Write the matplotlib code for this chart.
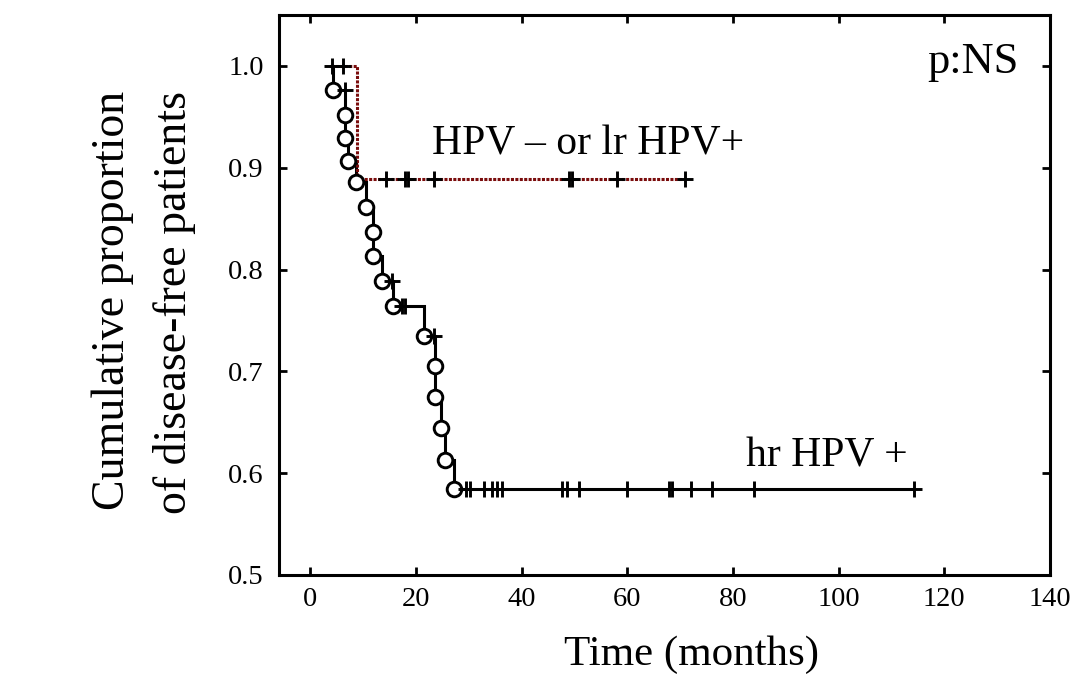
import matplotlib
matplotlib.use('Agg')
import matplotlib.pyplot as plt
import numpy as np

# ---- data ----
# hr HPV+ group (Kaplan-Meier steps)
hr_event_times = [4.4, 6.6, 6.6, 7.2, 8.7, 10.6, 11.9, 11.9, 13.6, 15.7,
                  21.6, 23.7, 23.7, 24.7, 25.6, 27.3]
hr_event_levels = [0.976, 0.952, 0.929, 0.907, 0.886, 0.861, 0.837, 0.813,
                   0.789, 0.764, 0.735, 0.705, 0.675, 0.644, 0.613, 0.584]
hr_censor_times = [6.5, 15.5, 17.4, 18.0, 23.4, 29.4, 30.2, 32.8, 34.4, 35.3,
                   36.3, 47.7, 48.6, 50.8, 60.0, 67.9, 68.5, 72.0, 76.1, 84.0,
                   114.3]
hr_start = 4.0

# HPV- or lr HPV+ group
lr_event_times = [8.9]
lr_event_levels = [0.889]
lr_censor_times = [4.2, 6.3, 14.4, 17.9, 18.5, 23.4, 48.9, 49.6, 58.1, 71.0]
lr_start = 4.0

x_ticks = [0, 20, 40, 60, 80, 100, 120, 140]
y_ticks = [0.5, 0.6, 0.7, 0.8, 0.9, 1.0]

FONT = ['Liberation Serif', 'DejaVu Serif']
plt.rcParams['font.family'] = FONT

W, H = 1070, 677


def level_at(t, times, levels):
    lv = 1.0
    for tt, ll in zip(times, levels):
        if tt <= t:
            lv = ll
    return lv


fig = plt.figure(figsize=(W / 100, H / 100), dpi=100)
ax = fig.add_axes([279 / W, 1 - 575 / H, (1050 - 279) / W, (575 - 15) / H])

# hr HPV+ curve
hr_end = max(hr_censor_times)
hx = [hr_start] + hr_event_times + [hr_end]
hy = [1.0] + hr_event_levels + [hr_event_levels[-1]]
ax.step(hx, hy, where='post', color='black', lw=2.2, zorder=3,
        solid_joinstyle='miter')

# lr curve
lr_end = max(lr_censor_times)
lx = [lr_start] + lr_event_times + [lr_end]
ly = [1.0] + lr_event_levels + [lr_event_levels[-1]]
ax.step(lx, ly, where='post', color='#7a0c0c', lw=2.2, zorder=4,
        linestyle=(0, (1.0, 0.45)))

# event circles (hr)
ax.plot(hr_event_times, hr_event_levels, linestyle='none', marker='o',
        markersize=10.5, markerfacecolor='white', markeredgecolor='black',
        markeredgewidth=2.1, zorder=6)

# censor marks
hr_cy = [level_at(t, hr_event_times, hr_event_levels) for t in hr_censor_times]
lr_cy = [level_at(t, lr_event_times, lr_event_levels) for t in lr_censor_times]
ax.plot(hr_censor_times, hr_cy, linestyle='none', marker='+', markersize=12,
        markeredgewidth=2.1, color='black', zorder=7)
ax.plot(lr_censor_times, lr_cy, linestyle='none', marker='+', markersize=12,
        markeredgewidth=2.1, color='black', zorder=7)

ax.set_xlim(-5.9, 140)
ax.set_ylim(0.5, 1.05)
ax.set_xticks(x_ticks)
ax.set_yticks(y_ticks)
ax.set_xticklabels([str(v) for v in x_ticks])
ax.set_yticklabels([f'{v:.1f}' for v in y_ticks])
ax.tick_params(direction='in', length=6, width=2.0, top=True, right=True,
               labelsize=20.5, labelcolor='black')
ax.tick_params(axis='y', pad=11)
ax.tick_params(axis='x', pad=9)
for sp in ax.spines.values():
    sp.set_linewidth(2.2)
    sp.set_color('black')

# axis titles placed as figure text
fig.text(691 / W, 1 - 665 / H, 'Time (months)', fontsize=31, ha='center',
         va='baseline')
fig.text(113 / W, 1 - 300 / H, 'Cumulative proportion', fontsize=33,
         rotation=90, ha='center', va='center')
fig.text(175 / W, 1 - 303 / H, 'of disease-free patients', fontsize=33,
         rotation=90, ha='center', va='center')

ax.text(23.1, 0.9126, 'HPV \u2013 or lr HPV+', fontsize=30, va='baseline',
        ha='left')
ax.text(82.4, 0.607, 'hr HPV +', fontsize=30, va='baseline', ha='left')
ax.text(116.8, 0.993, 'p:NS', fontsize=32, va='baseline', ha='left')

fig.savefig('out.png', dpi=100)
